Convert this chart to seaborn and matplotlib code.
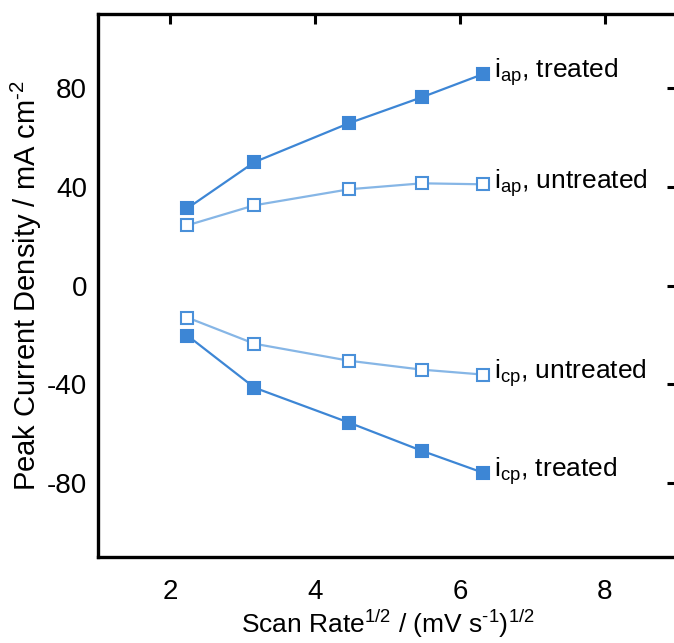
import numpy as np
import pandas as pd
import matplotlib
matplotlib.use("Agg")
import matplotlib.pyplot as plt
import seaborn as sns

# Data
scan_rate = [5, 10, 20, 30, 40]
sqrt_rate = list(np.sqrt(scan_rate))
iap_treated = [31.3, 50.0, 65.8, 76.3, 85.7]
iap_untreated = [24.4, 32.5, 39.0, 41.4, 41.0]
icp_untreated = [-13.0, -23.6, -30.5, -34.1, -36.1]
icp_treated = [-20.3, -41.4, -55.6, -67.0, -75.9]
series_labels = ["i$_{ap}$, treated", "i$_{ap}$, untreated",
                 "i$_{cp}$, untreated", "i$_{cp}$, treated"]
x_ticks = [2, 4, 6, 8]
y_ticks = [-80, -40, 0, 40, 80]

sns.set_theme(style="white")
plt.rcParams['font.family'] = ['Liberation Sans', 'DejaVu Sans']
plt.rcParams['mathtext.default'] = 'regular'
plt.rcParams['axes.unicode_minus'] = False
plt.rcParams['text.color'] = 'black'
plt.rcParams['axes.labelcolor'] = 'black'

fig = plt.figure(figsize=(6.74, 6.43), dpi=100)
ax = fig.add_axes([98 / 674, 1 - 557 / 643, (677 - 98) / 674, (557 - 14) / 643])

dark = "#3d86d5"
light = "#86b6e6"
edge = "#4a90d9"

styles = [
    (iap_treated, dict(color=dark, markerfacecolor=dark, markeredgecolor=dark)),
    (iap_untreated, dict(color=light, markerfacecolor="white", markeredgecolor=edge)),
    (icp_untreated, dict(color=light, markerfacecolor="white", markeredgecolor=edge)),
    (icp_treated, dict(color=dark, markerfacecolor=dark, markeredgecolor=dark)),
]
for (vals, st), lab in zip(styles, series_labels):
    df = pd.DataFrame({"x": sqrt_rate, "y": vals})
    sns.lineplot(data=df, x="x", y="y", ax=ax, marker="s", markersize=8,
                 markeredgewidth=1.5, linewidth=1.6, **st)
    ax.annotate(lab, xy=(sqrt_rate[-1], vals[-1]), xytext=(8, 1),
                textcoords="offset points", ha="left", va="center",
                fontsize=19, color="black")

ax.set_xlim(1, 9)
ax.set_ylim(-110, 110)
ax.set_xticks(x_ticks)
ax.set_yticks(y_ticks)
ax.tick_params(axis="both", which="both", direction="in", length=7.5, width=2.2,
               labelsize=20, colors="black", labelcolor="black", top=True, right=True)
ax.tick_params(axis="x", pad=16)
ax.tick_params(axis="y", pad=8)
for s in ax.spines.values():
    s.set_linewidth(2.4)
    s.set_color("black")
ax.set_xlabel("Scan Rate$^{1/2}$ / (mV s$^{\u20101}$)$^{1/2}$", fontsize=19, labelpad=2)
ax.set_ylabel("Peak Current Density / mA cm$^{\u20102}$", fontsize=21, labelpad=2)

fig.savefig("out.png", dpi=100)
